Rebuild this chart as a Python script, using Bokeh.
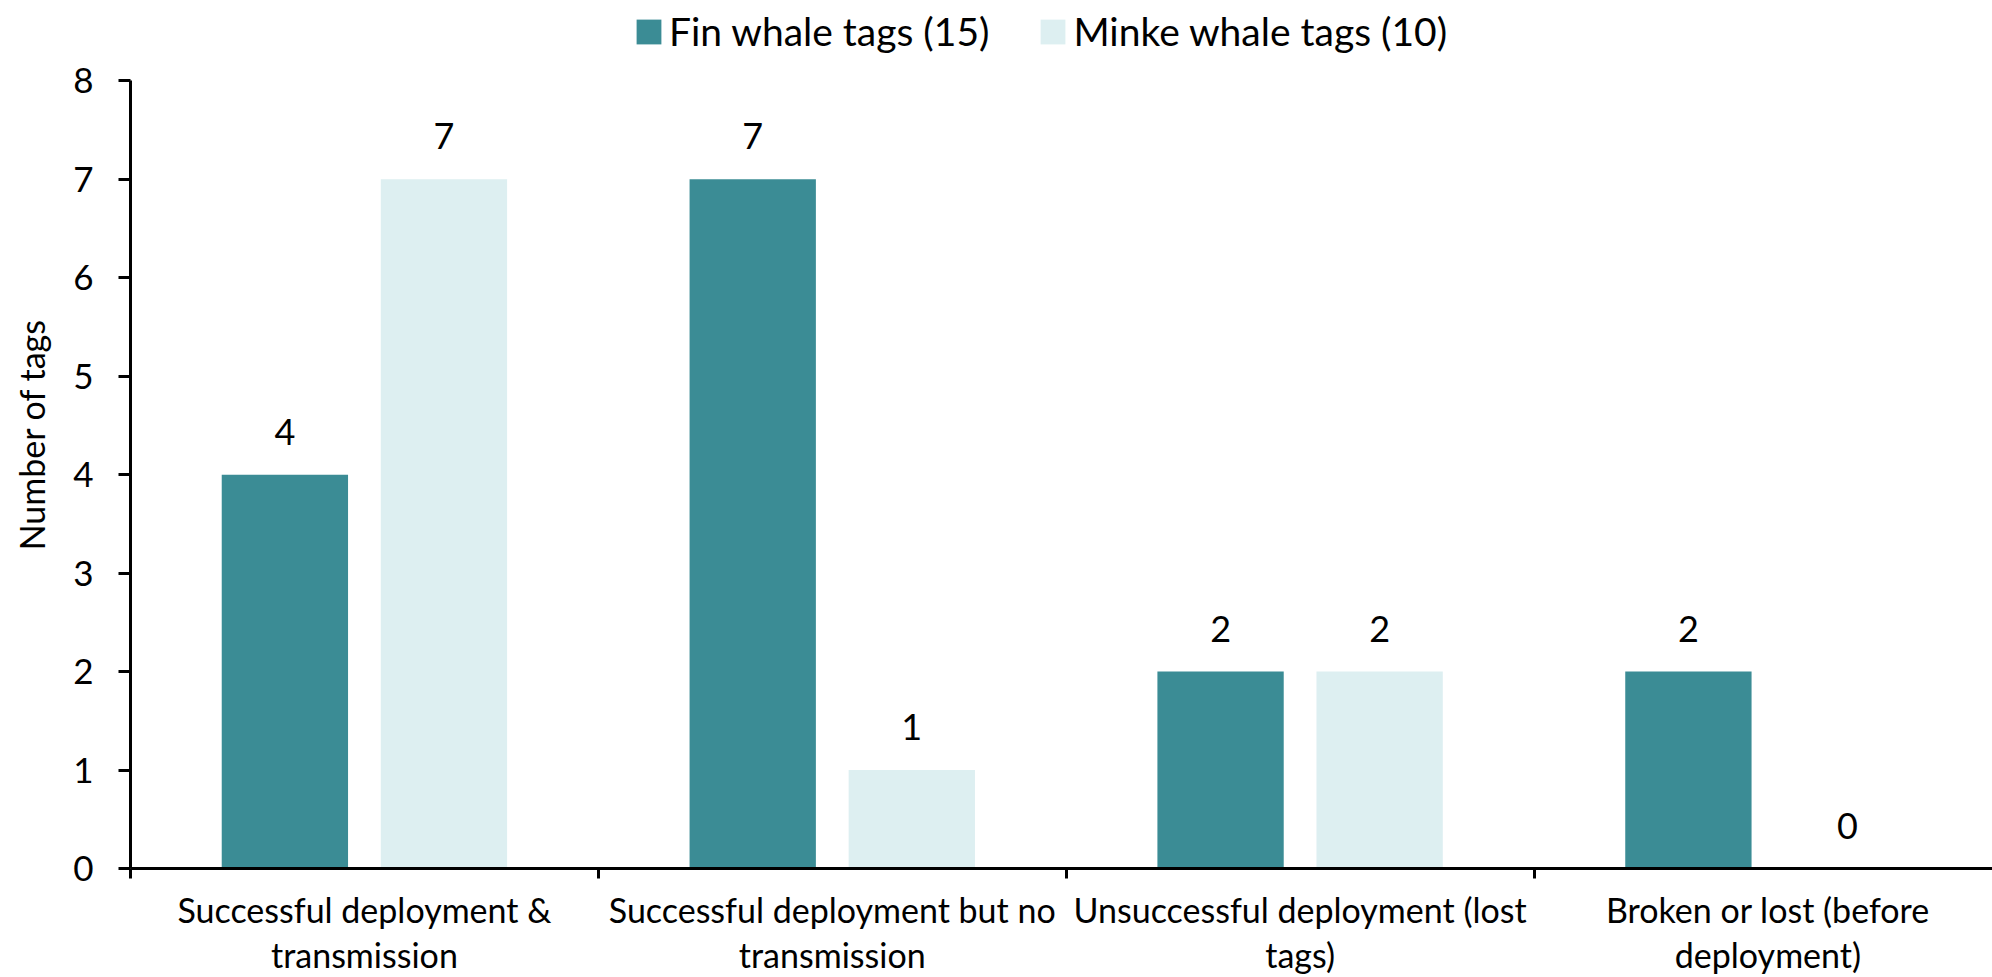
from bokeh.plotting import figure
from bokeh.models import (ColumnDataSource, FixedTicker, Range1d, Legend, LegendItem,
                          LabelSet)
from bokeh.transform import dodge
from bokeh.core.properties import value
from bokeh.embed import file_html
from bokeh.resources import INLINE

categories = ["Successful deployment &\ntransmission",
              "Successful deployment but no\ntransmission",
              "Unsuccessful deployment (lost\ntags)",
              "Broken or lost (before\ndeployment)"]
fin_tags = [4, 7, 2, 2]
minke_tags = [7, 1, 2, 0]
series_names = ["Fin whale tags (15)", "Minke whale tags (10)"]
y_ticks = [0, 1, 2, 3, 4, 5, 6, 7, 8]
y_max = 8

FIN = "#3B8C95"
MINKE = "#DDEFF1"
FONT = "Lato"
FS = "34px"

centers = [i + 0.5 for i in range(len(categories))]
bounds = [i for i in range(len(categories) + 1)]

src = ColumnDataSource(dict(
    xc=centers,
    fin=fin_tags,
    minke=minke_tags,
    fin_lbl=[str(v) for v in fin_tags],
    minke_lbl=[str(v) for v in minke_tags],
))

p = figure(width=1992, height=977, output_backend="svg", toolbar_location=None,
           x_range=Range1d(0, 3.98), y_range=Range1d(0, 8.815),
           min_border_left=130, min_border_right=0, min_border_top=0,
           min_border_bottom=100)
p.outline_line_color = None
p.grid.grid_line_color = None
p.background_fill_color = "white"
p.border_fill_color = "white"

DODGE = 0.17
BW = 0.27
r_fin = p.vbar(x=dodge("xc", -DODGE), top="fin", width=BW, source=src,
               fill_color=FIN, line_color=None)
r_min = p.vbar(x=dodge("xc", DODGE), top="minke", width=BW, source=src,
               fill_color=MINKE, line_color=None)

for col, lbl, off in (("fin", "fin_lbl", -DODGE), ("minke", "minke_lbl", DODGE)):
    ls = LabelSet(x=dodge("xc", off), y=col, text=lbl, source=src,
                  text_align="center", text_baseline="middle", y_offset=43,
                  text_font=value(FONT), text_font_size=value("36px"),
                  text_color="#000000")
    p.add_layout(ls)

# x axis
xa = p.xaxis[0]
xa.ticker = FixedTicker(ticks=centers, minor_ticks=bounds)
xa.major_label_overrides = {c: lab for c, lab in zip(centers, categories)}
xa.major_tick_out = 0
xa.major_tick_in = 0
xa.minor_tick_out = 10
xa.minor_tick_in = 0
xa.minor_tick_line_color = "black"
xa.minor_tick_line_width = 3
xa.axis_line_color = "black"
xa.axis_line_width = 3
xa.major_label_standoff = 10
xa.major_label_text_font = FONT
xa.major_label_text_font_size = FS
xa.major_label_text_line_height = 1.1
xa.major_label_text_color = "#000000"

# y axis
ya = p.yaxis[0]
ya.ticker = FixedTicker(ticks=y_ticks, minor_ticks=[])
ya.bounds = (0, y_max)
ya.major_tick_out = 12
ya.major_tick_in = 0
ya.major_tick_line_width = 3
ya.major_tick_line_color = "black"
ya.axis_line_color = "black"
ya.axis_line_width = 3
ya.major_label_standoff = 25
ya.major_label_text_font = FONT
ya.major_label_text_font_size = "35px"
ya.major_label_text_color = "#000000"
ya.axis_label = "Number of tags"
ya.axis_label_text_font = FONT
ya.axis_label_text_font_size = FS
ya.axis_label_text_font_style = "normal"
ya.axis_label_text_color = "#000000"
ya.axis_label_standoff = 18

legend = Legend(items=[LegendItem(label=series_names[0], renderers=[r_fin]),
                       LegendItem(label=series_names[1], renderers=[r_min])],
                orientation="horizontal", location=(503, 814),
                glyph_width=31, glyph_height=31, label_standoff=5, spacing=48,
                padding=0, margin=0, border_line_color=None,
                background_fill_alpha=0,
                label_text_font=FONT, label_text_font_size="39px",
                label_text_color="#000000")
p.add_layout(legend, "center")

open("out.html", "w").write(file_html(p, INLINE))
